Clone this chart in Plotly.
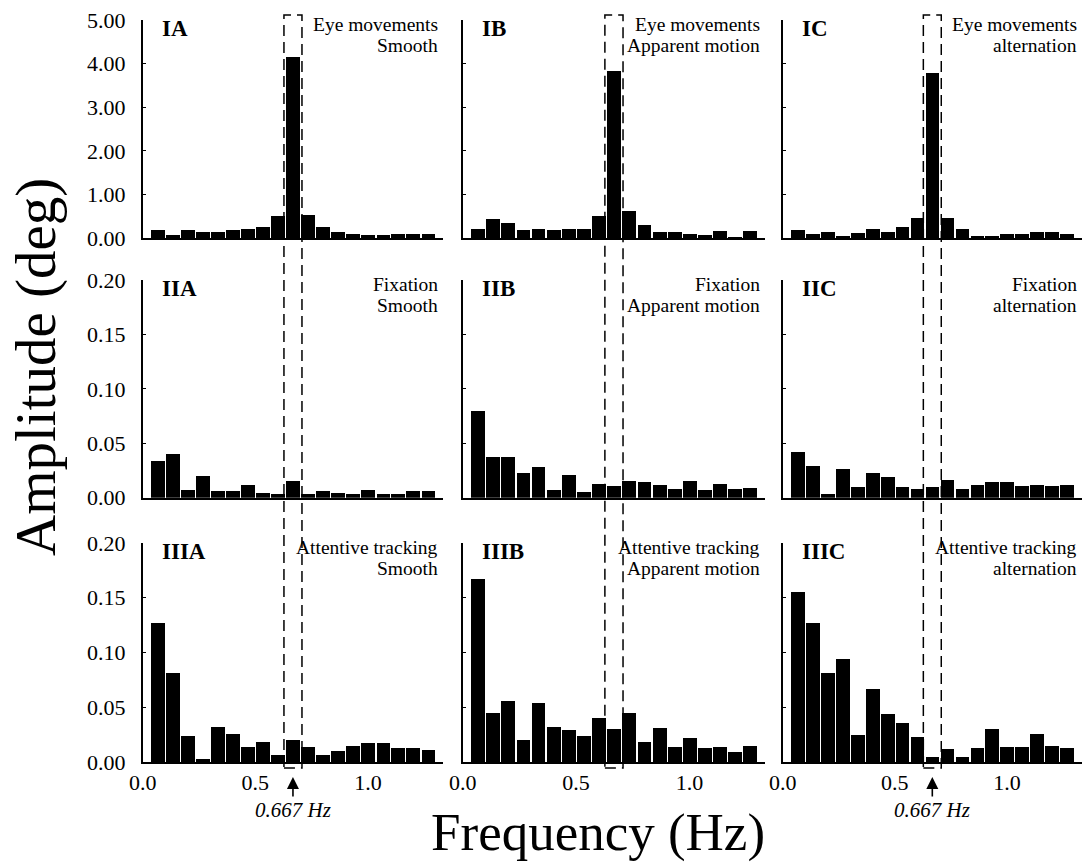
import plotly.graph_objects as go

# ---------------- data ----------------
FREQ = [0.067, 0.133, 0.200, 0.267, 0.333, 0.400, 0.467, 0.533, 0.600, 0.667,
        0.733, 0.800, 0.867, 0.933, 1.000, 1.067, 1.133, 1.200, 1.267]

IA = [0.19, 0.08, 0.19, 0.15, 0.15, 0.19, 0.21, 0.27, 0.50, 4.15,
      0.53, 0.27, 0.15, 0.11, 0.08, 0.08, 0.11, 0.11, 0.09]
IB = [0.21, 0.44, 0.34, 0.19, 0.21, 0.19, 0.21, 0.21, 0.50, 3.83,
      0.63, 0.31, 0.14, 0.14, 0.10, 0.07, 0.17, 0.03, 0.17]
IC = [0.18, 0.11, 0.15, 0.05, 0.13, 0.22, 0.15, 0.27, 0.47, 3.78,
      0.47, 0.22, 0.06, 0.06, 0.10, 0.10, 0.14, 0.14, 0.11]

IIA = [0.034, 0.040, 0.007, 0.020, 0.006, 0.006, 0.012, 0.004, 0.003, 0.015,
       0.003, 0.006, 0.004, 0.003, 0.007, 0.003, 0.003, 0.006, 0.006]
IIB = [0.080, 0.037, 0.037, 0.023, 0.028, 0.007, 0.021, 0.005, 0.013, 0.011,
       0.015, 0.014, 0.012, 0.008, 0.015, 0.007, 0.013, 0.008, 0.009]
IIC = [0.042, 0.029, 0.003, 0.026, 0.010, 0.023, 0.019, 0.010, 0.008, 0.010,
       0.016, 0.008, 0.012, 0.014, 0.014, 0.011, 0.012, 0.011, 0.012]

IIIA = [0.127, 0.081, 0.024, 0.003, 0.032, 0.026, 0.014, 0.018, 0.006, 0.020,
        0.014, 0.006, 0.010, 0.015, 0.017, 0.017, 0.013, 0.013, 0.011]
IIIB = [0.167, 0.045, 0.056, 0.020, 0.054, 0.032, 0.029, 0.024, 0.040, 0.030,
        0.045, 0.018, 0.031, 0.014, 0.022, 0.013, 0.014, 0.009, 0.015]
IIIC = [0.155, 0.127, 0.081, 0.094, 0.025, 0.067, 0.044, 0.036, 0.023, 0.005,
        0.012, 0.005, 0.013, 0.030, 0.014, 0.014, 0.026, 0.015, 0.013]

PANEL_LABELS = ["IA", "IB", "IC", "IIA", "IIB", "IIC", "IIIA", "IIIB", "IIIC"]
SUBTITLES = [("Eye movements", "Smooth"), ("Eye movements", "Apparent motion"),
             ("Eye movements", "alternation"),
             ("Fixation", "Smooth"), ("Fixation", "Apparent motion"), ("Fixation", "alternation"),
             ("Attentive tracking", "Smooth"), ("Attentive tracking", "Apparent motion"),
             ("Attentive tracking", "alternation")]
SERIES = [IA, IB, IC, IIA, IIB, IIC, IIIA, IIIB, IIIC]

Y_TICKS_ROW1 = [0, 1, 2, 3, 4, 5]
Y_TICKS_ROW23 = [0, 0.05, 0.10, 0.15, 0.20]
X_TICKS = [0.0, 0.5, 1.0]
STIM_FREQ = 0.667
BIN_HALF = 0.04
X_MAX = 1.333

# ---------------- layout geometry ----------------
W, H = 1083, 868
COLS_PX = [(142.7, 443.0), (462.7, 765.0), (782.7, 1081.7)]
ROWS_PX = [(20.0, 238.3), (280.0, 497.7), (543.0, 762.0)]

FONT = "Liberation Serif, Times New Roman, serif"

fig = go.Figure()
layout = dict(template="none", width=W, height=H, margin=dict(l=0, r=0, t=0, b=0, pad=0),
              paper_bgcolor="white", plot_bgcolor="white", showlegend=False,
              font=dict(family=FONT, color="black", size=20), bargap=0)
annotations = []
shapes = []

for i in range(9):
    r, c = divmod(i, 3)
    n = i + 1
    xa = "x" if n == 1 else f"x{n}"
    ya = "y" if n == 1 else f"y{n}"
    fig.add_trace(go.Bar(x=FREQ, y=SERIES[i], width=0.061, marker=dict(color="black", line=dict(width=0)),
                         xaxis=xa, yaxis=ya))
    x0, x1 = COLS_PX[c]
    y0, y1 = ROWS_PX[r]
    xkey = "xaxis" if n == 1 else f"xaxis{n}"
    ykey = "yaxis" if n == 1 else f"yaxis{n}"
    layout[xkey] = dict(domain=[x0 / W, x1 / W], anchor=ya, range=[0, X_MAX], automargin=False,
                        showline=True, linecolor="black", linewidth=1.5, showgrid=False, zeroline=False,
                        ticks="", tickvals=X_TICKS, tickformat=".1f",
                        showticklabels=(r == 2), tickfont=dict(size=22, family=FONT))
    if r == 0:
        yt, yr, fmt = Y_TICKS_ROW1, [0, 5], ".2f"
    else:
        yt, yr, fmt = Y_TICKS_ROW23, [0, 0.2], ".2f"
    layout[ykey] = dict(domain=[1 - y1 / H, 1 - y0 / H], anchor=xa, range=yr, automargin=False,
                        showline=True, linecolor="black", linewidth=1.5, showgrid=False, zeroline=False,
                        ticks="inside", ticklen=4, tickwidth=1.2, tickcolor="black",
                        tickvals=yt, tickformat=fmt, showticklabels=(c == 0), ticklabelstandoff=11,
                        tickfont=dict(size=22, family=FONT))
    # panel label
    annotations.append(dict(text=f"<b>{PANEL_LABELS[i]}</b>", xref=f"{xa} domain", yref=f"{ya} domain",
                            x=0, y=1, xanchor="left", yanchor="top", xshift=17, yshift=6,
                            showarrow=False, font=dict(size=23, family=FONT)))
    # subtitles (two lines)
    l1, l2 = SUBTITLES[i]
    annotations.append(dict(text=l1, xref=f"{xa} domain", yref=f"{ya} domain",
                            x=1, y=1, xanchor="right", yanchor="top", xshift=-3, yshift=8,
                            showarrow=False, font=dict(size=19.5, family=FONT)))
    annotations.append(dict(text=l2, xref=f"{xa} domain", yref=f"{ya} domain",
                            x=1, y=1, xanchor="right", yanchor="top", xshift=-3, yshift=-13,
                            showarrow=False, font=dict(size=19.5, family=FONT)))

# dashed stimulus-frequency boxes spanning all rows, one per column
for c in range(3):
    xa = "x" if c == 0 else f"x{c + 1}"
    shapes.append(dict(type="rect", xref=xa, yref="paper",
                       x0=STIM_FREQ - BIN_HALF, x1=STIM_FREQ + BIN_HALF,
                       y0=1 - 768 / H, y1=1 - 15 / H,
                       line=dict(color="black", width=1.5, dash="11px,6px")))

# arrows with 0.667 Hz labels under columns A and C
for xa in ["x7", "x9"]:
    annotations.append(dict(text="<i>0.667 Hz</i>", xref=xa, yref="paper", x=STIM_FREQ, y=1 - 777 / H,
                            ax=0, ay=33, axref="pixel", ayref="pixel", showarrow=True,
                            arrowhead=2, arrowsize=1.5, arrowwidth=1.6, arrowcolor="black",
                            font=dict(size=21, family=FONT)))

# axis titles
annotations.append(dict(text="Amplitude (deg)", xref="paper", yref="paper", x=36 / W, y=1 - 367 / H,
                        textangle=-90, showarrow=False, xanchor="center", yanchor="middle",
                        font=dict(size=57, family=FONT)))
annotations.append(dict(text="Frequency (Hz)", xref="paper", yref="paper", x=598 / W, y=1 - 832 / H,
                        showarrow=False, xanchor="center", yanchor="middle",
                        font=dict(size=53, family=FONT)))

layout["annotations"] = annotations
layout["shapes"] = shapes
fig.update_layout(**layout)

fig.write_html("out.html", config={"displayModeBar": False},
               post_script="document.body.style.margin='0';")
